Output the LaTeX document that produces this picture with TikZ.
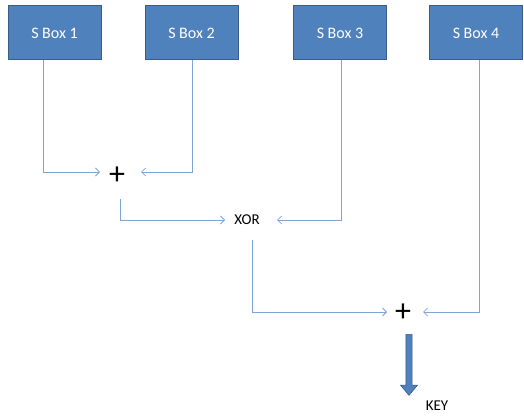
\documentclass[tikz,border=0pt]{standalone}
\usepackage{fontspec}
\setmainfont{Carlito}
\usetikzlibrary{arrows.meta,shapes.arrows}
\definecolor{boxfill}{HTML}{4F81BD}
\definecolor{boxline}{HTML}{385D8A}
\definecolor{conn}{HTML}{7FA5D6}
\tikzset{
  sbox/.style={draw=boxline, line width=1pt, fill=boxfill, text=white, minimum width=93pt, minimum height=54pt, inner sep=0pt, font=\fontsize{16}{18}\selectfont},
  op/.style={inner sep=0pt, font=\fontsize{32}{32}\selectfont},
  lbl/.style={inner sep=0pt, font=\fontsize{15}{17}\selectfont},
  conn/.style={draw=conn, line width=0.8pt, -{Straight Barb[length=4pt,width=8pt]}},
}
\begin{document}
\begin{tikzpicture}[x=1pt,y=-1pt]
\useasboundingbox (0,0) rectangle (524,417);
\node[sbox] (b1) at (54.5,33) {S Box 1};
\node[sbox] (b2) at (191.5,33) {S Box 2};
\node[sbox] (b3) at (340,33) {S Box 3};
\node[sbox] (b4) at (476,33) {S Box 4};
\node[op] (p1) at (117,176) {+};
\node[lbl] (x) at (247,220) {XOR};
\node[op] (p2) at (403,313) {+};
\node[lbl] (k) at (437,406) {KEY};
\coordinate (p1b) at (120,199);
\coordinate (xb) at (252,240);
\draw[conn] (b1.south -| 43,0) |- (100,172);
\draw[conn] (b2.south -| 192,0) |- (141,172);
\draw[conn] (p1b) |- (225,220);
\draw[conn] (b3.south -| 341,0) |- (277,220);
\draw[conn] (xb) |- (387,312);
\draw[conn] (b4.south -| 479,0) |- (423,312);
\node[single arrow, draw=boxline, fill=boxfill, line width=0.6pt, shape border rotate=270, minimum width=17pt, single arrow head extend=5pt, single arrow tip angle=80, minimum height=61pt, inner sep=2.5pt, anchor=north] (ka) at (409,334) {};
\end{tikzpicture}
\end{document}
